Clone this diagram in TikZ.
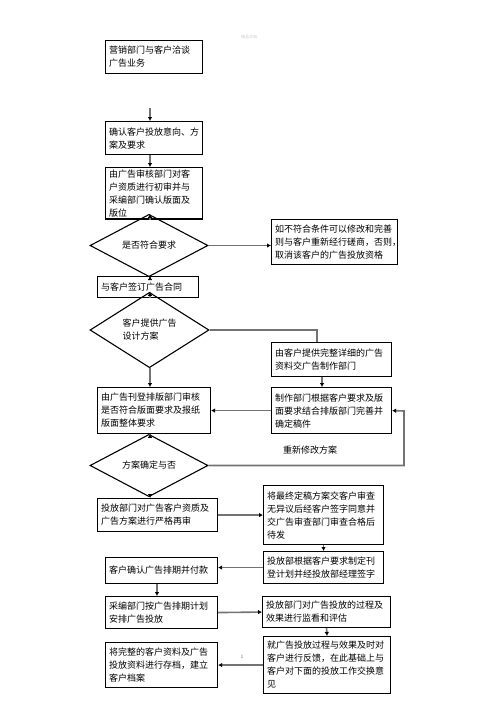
\documentclass[tikz,border=0pt]{standalone}
\usepackage{fontspec}
\newfontfamily\cjk{Noto Sans CJK SC}
\usetikzlibrary{shapes.geometric,arrows.meta}
\begin{document}
\begin{tikzpicture}[x=1pt,y=-1pt,
    box/.style={draw,line width=1.1pt,anchor=north west,align=left,
        inner xsep=3.5pt,inner ysep=2pt,font=\cjk\fontsize{9}{13}\selectfont},
    choice/.style={draw,diamond,line width=1.1pt,inner sep=0pt,
        font=\cjk\fontsize{9}{13}\selectfont,align=left},
    arr/.style={draw=black!55,line width=1.6pt,-{Latex[length=4pt,width=4.5pt,color=black]}},
    link/.style={draw=black!55,line width=1.6pt}]
    \useasboundingbox (0,0) rectangle (496,702);
    % page marks
    \node[font=\cjk\fontsize{4}{4}\selectfont,text=black!20] (mark) at (249,37) {精品文档};
    \node[font=\fontsize{5}{5}\selectfont,text=black!60] (page) at (242,657) {1};
    % left column
    \node[box,text width=90pt,minimum height=33pt] (talk) at (105,40) {营销部门与客户洽谈\\广告业务};
    \node[box,text width=90pt,minimum height=33pt] (confirm) at (105,121) {确认客户投放意向、方\\案及要求};
    \node[box,text width=90pt,minimum height=51pt] (audit) at (105,167) {由广告审核部门对客\\户资质进行初审并与\\采编部门确认版面及\\版位};
    \node[choice,minimum width=118pt,minimum height=25pt] (meet) at (149,245.5) {是否符合要求};
    \node[box,text width=94pt,minimum height=21pt] (contract) at (97,276) {与客户签订广告合同};
    \node[choice,minimum width=119pt,minimum height=52pt] (design) at (149.5,330) {客户提供广告\\设计方案};
    \node[box,text width=106pt,minimum height=46pt] (layout) at (97,387) {由广告刊登排版部门审核\\是否符合版面要求及报纸\\版面整体要求};
    \node[choice,minimum width=118pt,minimum height=25pt] (final) at (149,465.5) {方案确定与否};
    \node[box,text width=113pt,minimum height=33pt] (recheck) at (97,498) {投放部门对广告客户资质及\\广告方案进行严格再审};
    \node[box,text width=105pt,minimum height=26pt] (pay) at (105,557) {客户确认广告排期并付款};
    \node[box,text width=105pt,minimum height=32pt] (arrange) at (105,596) {采编部门按广告排期计划\\安排广告投放};
    \node[box,text width=105pt,minimum height=45pt] (archive) at (105,642) {将完整的客户资料及广告\\投放资料进行存档，建立\\客户档案};
    % right column
    \node[box,text width=119pt,minimum height=45pt] (refuse) at (271,219) {如不符合条件可以修改和完善\\则与客户重新经行磋商，否则，\\取消该客户的广告投放资格};
    \node[box,text width=113pt,minimum height=34pt] (material) at (271,342) {由客户提供完整详细的广告\\资料交广告制作部门};
    \node[box,text width=113pt,minimum height=46pt] (make) at (271,387) {制作部门根据客户要求及版\\面要求结合排版部门完善并\\确定稿件};
    \node[box,text width=113pt,minimum height=59pt] (sign) at (263,485) {将最终定稿方案交客户审查\\无异议后经客户签字同意并\\交广告审查部门审查合格后\\待发};
    \node[box,text width=113pt,minimum height=32pt] (plan) at (263,551) {投放部根据客户要求制定刊\\登计划并经投放部经理签字};
    \node[box,text width=121pt,minimum height=31pt] (monitor) at (262,596) {投放部门对广告投放的过程及\\效果进行监看和评估};
    \node[box,text width=120pt,minimum height=57pt] (feedback) at (263,636) {就广告投放过程与效果及时对\\客户进行反馈，在此基础上与\\客户对下面的投放工作交换意\\见};
    \node[font=\cjk\fontsize{9}{13}\selectfont] (redo) at (310,450) {重新修改方案};
    % helper coordinates
    \coordinate (spine) at (150,0);
    \coordinate (gap) at (150,108);
    \coordinate (bend) at (317,0);
    \coordinate (rspine) at (322,0);
    \coordinate (lspine) at (157,0);
    \coordinate (loop) at (404,411);
    % connectors
    \draw[arr] (gap) -- (confirm.north -| spine);
    \draw[arr] (confirm.south -| spine) -- (audit.north -| spine);
    \draw[arr] (audit.south -| spine) -- (meet.north -| spine);
    \draw[arr] (meet.east) -- (meet.east -| refuse.west);
    \draw[arr] (meet.south -| spine) -- (contract.north -| spine);
    \draw[arr] (contract.south -| spine) -- (design.north -| spine);
    \draw[link] (design.east) -| (material.north -| bend);
    \draw[arr] (design.south -| spine) -- (layout.north -| spine);
    \draw[arr] (material.south -| rspine) -- (make.north -| rspine);
    \draw[arr] (make.west) -- (layout.east);
    \draw[arr] (layout.south -| spine) -- (final.north -| spine);
    \draw[arr] (final.east) -| (loop) -- (make.east);
    \draw[arr] (final.south -| spine) -- (recheck.north -| spine);
    \draw[arr] (recheck.east) -- (sign.west);
    \draw[arr] (sign.south) -- (plan.north);
    \draw[arr] (plan.west) -- (plan.west -| pay.east);
    \draw[arr] (pay.south -| lspine) -- (arrange.north -| lspine);
    \draw[arr] (arrange.east) -- (monitor.west);
    \draw[arr] (monitor.south) -- (feedback.north);
    \draw[arr] (feedback.west) -- (archive.east);
\end{tikzpicture}
\end{document}
